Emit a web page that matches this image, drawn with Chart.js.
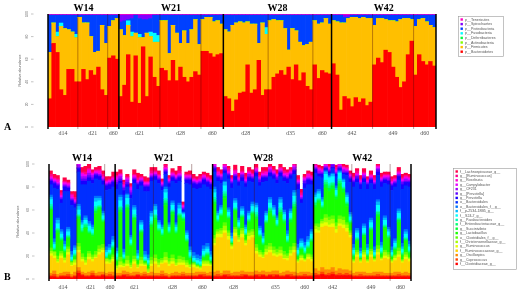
<!DOCTYPE html>
<html>
<head>
<meta charset="utf-8">
<script src="https://cdn.jsdelivr.net/npm/chart.js"></script>
<style>
  html, body { margin: 0; padding: 0; background: #fff; }
  #wrap { position: relative; width: 517px; height: 305px; overflow: hidden; }
  canvas { position: absolute; left: 0; }
  #chartA { top: 0; }
  #chartB { top: 150px; }
</style>
</head>
<body>
<div id="wrap">
  <canvas id="chartA" width="517" height="150"></canvas>
  <canvas id="chartB" width="517" height="155"></canvas>
</div>
<script>
// Semanas, dias y numero de muestras por dia
const weeks = ['W14', 'W21', 'W28', 'W42'];
const dayLabels = [['d14', 'd21', 'd60'], ['d21', 'd28', 'd60'], ['d28', 'd35', 'd60'], ['d42', 'd49', 'd60']];
const samplesPerDay = [[8, 8, 3], [11, 11, 6], [12, 12, 5], [11, 11, 6]];
const yTicks = [0, 20, 40, 60, 80, 100];

// Panel A: filos (de abajo hacia arriba)
const bacteroidetes = [25,74,66,33,28,51,51,40,40,51,42,50,46,53,33,28,61,63,60,
  27,37,64,22,63,21,71,27,62,44,36,52,50,41,59,41,53,44,40,44,49,46,67,67,65,62,64,65,
  27,25,14,24,30,31,55,30,33,59,28,33,33,44,47,50,46,53,42,55,41,48,36,33,55,43,50,48,47,
  56,46,15,27,25,18,26,22,25,19,22,55,61,57,68,66,53,44,35,40,64,76,46,64,58,55,58,54];
const firmicutes = [41,18,14,56,59,35,33,39,57,41,50,30,20,14,57,46,28,31,36,
  59,44,26,58,20,58,8,56,18,31,39,42,44,24,31,42,21,41,34,42,46,27,28,30,32,31,30,26,
  59,59,76,68,63,61,38,61,58,15,64,49,61,51,47,44,41,15,45,30,34,24,37,42,39,48,42,48,44,
  38,47,77,65,71,79,71,74,72,77,74,35,35,39,27,28,41,49,60,56,32,19,43,31,38,38,32,34];
const actinobacteria = [0,0,0,0,0,0,0,0,0,0,0,0,0,0,0,0,0,0,0,
  0,0,0,0,0,0,0,0,0,0,0,0,0,0,0,0,0,0,0,0,0,0,0,0,0,0,0,0,
  0,0,0,0,0,0,0,0,0,0,0,0,0,0,0,0,0,0,0,0,0,0,0,0,0,0,0,0,0,
  0,0,0,0,0,0,0,0,0,0,0,0,0,0,0,0,0,0,0,0,0,0,0,0,0,0,0,0];
const deferribacteres = [0,0,0,0,0,0,0,0,0,0,0,0,0,0,0,0,0,0,0,
  0,0,0,0,0,0,0,0,0,0,0,0,0,0,0,0,0,0,0,0,0,0,0,0,0,0,0,0,
  0,0,0,0,0,0,0,0,0,0,0,0,0,0,0,0,0,0,0,0,0,0,0,0,0,0,0,0,0,
  0,0,0,0,0,0,0,0,0,0,0,0,0,0,0,0,0,0,0,0,0,0,0,0,0,0,0,0];
const fusobacteria = [0,0,4,3,0,0,0,3,0,0,0,0,0,0,0,0,0,0,0,
  0,0,4,4,0,3,0,0,4,8,6,0,0,0,0,0,0,0,0,0,0,0,0,0,0,0,0,0,
  0,0,0,0,0,0,0,0,0,0,0,6,0,0,0,0,0,0,0,0,0,0,0,0,0,0,0,0,0,
  0,0,0,0,0,0,0,0,0,0,0,0,0,0,0,0,0,0,0,0,0,0,0,0,0,0,0,0];
const proteobacteria = [33,7,15,7,12,13,15,17,2,7,7,19,33,32,9,25,10,5,3,
  7,13,1,12,16,14,16,12,12,16,18,5,5,34,9,16,25,14,25,13,4,26,4,2,2,6,5,8,
  13,15,9,7,6,7,6,8,8,25,7,11,5,4,5,5,12,31,12,14,24,27,26,24,5,8,7,3,8,
  5,6,7,5,1,2,2,3,2,3,3,9,3,3,4,5,5,6,4,3,3,4,10,4,3,6,9,11];
const spirochaetes = [0,0,0,0,0,0,0,0,0,0,0,0,0,0,0,0,0,0,0,
  6,5,4,3,0,3,4,4,3,0,0,0,0,0,0,0,0,0,0,0,0,0,0,0,0,0,0,0,
  0,0,0,0,0,0,0,0,0,0,0,0,0,0,0,0,0,0,0,0,0,0,0,0,0,0,0,0,0,
  0,0,0,2,2,0,0,0,0,0,0,0,0,0,0,0,0,0,0,0,0,0,0,0,0,0,0,0];
const tenericutes = [1,1,1,1,1,1,1,1,1,1,1,1,1,1,1,1,1,1,1,
  1,1,1,1,1,1,1,1,1,1,1,1,1,1,1,1,1,1,1,1,1,1,1,1,1,1,1,1,
  1,1,1,1,1,1,1,1,1,1,1,1,1,1,1,1,1,1,1,1,1,1,1,1,1,1,1,1,1,
  1,1,1,1,1,1,1,1,1,1,1,1,1,1,1,1,1,1,1,1,1,1,1,1,1,1,1,1];
const phylumNames = ['p__Bacteroidetes', 'p__Firmicutes', 'p__Actinobacteria', 'p__Deferribacteres',
  'p__Fusobacteria', 'p__Proteobacteria', 'p__Spirochaetes', 'p__Tenericutes'];
const phylumColors = ['#FF0000', '#FFBF00', '#80FF00', '#00FF40', '#00FFFF', '#0040FF', '#8000FF', '#FF00BF'];

// Panel B: generos (de abajo hacia arriba)
const fClostridiaceae = [2,2,1,2,2,2,1,2,5,3,2,2,3,2,2,3,2,2,2,
  2,2,3,2,2,2,3,2,2,2,2,2,2,2,2,1,2,2,2,2,2,2,2,2,3,2,2,2,
  2,2,2,3,2,2,2,2,2,3,2,2,3,2,3,2,3,2,3,2,2,3,2,2,2,2,2,2,2,
  3,3,4,3,3,4,3,3,3,3,3,2,2,2,2,2,2,2,2,2,2,2,2,2,2,2,2,2];
const gCoprococcus = [1,2,1,1,1,2,1,1,2,1,1,1,2,1,1,1,1,2,1,
  1,1,1,2,1,1,1,1,2,1,1,1,1,2,1,1,1,1,1,2,1,1,1,1,1,2,1,1,
  1,2,1,1,2,1,1,1,2,1,1,1,1,2,1,1,1,2,1,1,1,1,2,1,1,1,2,1,1,
  2,1,2,1,2,2,1,2,1,2,1,1,1,2,1,1,1,1,2,1,1,1,1,1,2,1,1,1];
const gOscillospira = [2,3,2,2,3,2,2,3,3,2,2,3,2,2,3,2,2,2,3,
  2,2,3,2,2,3,2,2,2,2,3,2,2,3,2,2,2,3,2,2,2,2,2,3,2,2,2,3,
  3,3,2,3,3,2,3,3,3,2,3,3,3,2,3,3,2,3,3,2,3,3,2,3,2,3,2,3,2,
  4,3,4,4,3,4,3,4,4,3,3,2,3,2,3,2,2,3,2,3,2,2,2,3,2,2,3,2];
const fRuminococcaceae = [15,11,10,13,8,15,7,6,13,9,7,11,8,13,15,17,8,7,9,
  3,5,3,5,4,7,3,6,5,0,5,8,5,6,9,7,8,5,7,6,5,4,5,3,2,5,6,5,
  23,29,31,33,27,21,31,26,29,23,28,30,15,13,11,15,17,13,12,15,11,9,14,17,9,10,9,11,10,
  31,33,35,38,37,35,33,37,36,33,29,9,13,8,13,9,14,9,15,10,13,12,9,10,13,9,11,10];
const gRuminococcus = [2,2,1,2,2,2,1,2,2,2,2,2,2,1,2,2,2,1,2,
  1,2,1,2,1,2,1,2,1,1,2,2,2,1,2,2,2,1,2,2,2,1,2,1,1,2,2,1,
  2,3,3,2,3,2,3,2,3,2,3,2,2,2,1,2,2,2,2,2,1,2,2,2,1,2,1,2,2,
  3,2,3,3,2,3,3,2,3,3,2,1,2,1,2,1,2,1,2,1,2,2,1,2,2,1,2,2];
const fChristensenellaceae = [2,3,2,2,2,3,2,2,3,2,2,3,2,2,3,2,2,2,2,
  2,3,2,3,2,2,2,3,1,2,3,3,2,2,3,2,3,2,3,2,2,2,1,1,1,2,2,1,
  4,2,3,4,3,1,3,2,3,2,3,3,3,2,2,3,3,3,2,3,3,2,3,3,1,2,1,2,2,
  3,3,2,4,4,4,3,4,4,3,2,1,2,1,2,1,3,1,3,1,3,2,1,2,3,1,2,1];
const oClostridiales = [3,1,3,2,1,2,1,1,3,3,3,2,2,3,3,3,1,1,2,
  1,4,1,4,2,3,1,3,1,1,3,3,3,2,4,3,3,3,3,3,2,1,1,1,1,1,1,1,
  3,2,2,3,2,1,2,2,2,1,2,2,3,2,2,3,3,3,3,3,3,2,3,3,1,1,1,1,2,
  2,3,2,3,3,3,3,3,3,2,2,1,2,1,2,1,2,1,3,1,2,2,1,1,3,1,2,1];
const gLactobacillus = [33,1,20,9,4,7,0,2,21,18,25,15,16,33,31,19,0,3,5,
  3,39,3,40,14,31,3,21,1,2,26,30,24,19,41,21,35,22,33,31,16,4,0,0,0,2,4,1,
  27,6,10,21,10,1,14,5,9,4,7,13,22,11,6,19,26,24,19,28,24,9,21,30,2,4,3,4,11,
  14,18,9,23,22,23,20,25,21,14,6,2,8,1,12,2,16,1,25,2,19,12,2,4,22,3,10,3];
const gSuccinivibrio = [1,0,2,1,1,1,0,1,2,1,1,1,1,2,2,1,0,1,1,
  1,2,0,2,1,2,0,1,0,1,2,2,1,1,2,1,2,1,2,2,1,1,0,0,0,1,1,0,
  2,1,1,2,1,0,1,1,1,0,1,1,2,1,1,1,2,2,1,2,2,1,2,2,1,1,1,1,1,
  2,2,1,3,3,3,2,3,3,2,1,1,1,0,1,1,1,0,2,1,1,1,0,1,2,1,1,1];
const fEnterobacteriaceae = [2,1,1,1,1,1,1,1,1,1,2,1,1,2,1,1,1,1,1,
  1,2,1,2,1,1,1,1,1,1,1,2,1,1,2,1,1,1,1,1,1,1,1,1,1,1,1,1,
  2,1,1,2,1,1,1,1,1,1,1,1,2,1,1,1,2,1,1,2,1,1,1,2,1,1,1,1,1,
  2,1,1,2,2,2,1,2,1,1,1,1,1,1,1,1,1,1,2,1,1,1,1,1,1,1,1,1];
const gParabacteroides = [2,1,1,1,1,1,1,1,1,2,1,1,1,2,1,1,1,1,1,
  2,1,1,1,1,2,1,1,1,1,2,1,1,1,2,1,1,1,1,1,1,1,1,1,1,1,1,1,
  2,1,1,2,1,1,1,1,1,1,1,1,2,1,1,1,1,1,1,2,1,1,1,2,1,1,1,1,1,
  1,1,1,2,2,1,1,2,1,1,1,1,1,1,1,1,1,1,1,1,1,1,1,1,1,1,1,1];
const fS24_7 = [4,3,4,3,2,3,2,3,4,3,3,4,3,4,4,3,3,2,3,
  3,5,2,5,3,4,2,4,2,2,4,4,3,3,5,3,4,3,4,2,3,3,2,2,2,3,3,2,
  4,3,3,5,3,2,4,3,3,3,3,4,4,3,3,4,4,4,3,4,4,3,4,5,3,3,3,3,4,
  4,4,3,5,5,5,4,5,4,4,3,3,4,2,4,3,4,2,5,3,4,3,2,3,4,3,3,3];
const fP2534 = [2,2,3,2,2,2,2,2,3,2,2,2,2,3,2,2,2,2,2,
  2,3,2,3,2,2,2,2,2,2,3,3,2,2,3,2,2,2,3,1,2,2,2,2,2,2,2,2,
  3,2,2,3,2,2,2,2,2,2,2,2,2,2,2,2,3,2,2,3,2,2,2,3,2,2,2,2,2,
  2,2,2,2,1,2,2,1,2,2,2,2,2,2,2,2,2,2,3,2,2,2,2,2,2,2,2,2];
const oBacteroidalesF = [2,3,2,2,3,2,3,2,2,2,2,2,2,2,2,2,3,3,3,
  3,2,3,1,2,2,3,2,3,3,2,2,2,2,2,2,2,2,2,1,2,3,3,3,3,3,3,3,
  2,2,2,1,2,3,2,2,2,2,2,2,2,2,3,2,2,2,2,2,2,3,2,2,3,2,3,3,2,
  2,2,2,1,1,1,2,1,1,2,2,3,2,3,2,3,2,3,2,3,2,2,3,2,2,3,2,3];
const oBacteroidales = [9,44,25,23,43,31,40,33,28,31,27,35,36,15,14,23,49,48,43,
  51,10,47,6,32,19,53,30,52,55,26,21,32,30,11,31,17,34,19,1,41,54,56,57,59,53,49,54,
  13,26,19,7,25,39,16,28,22,33,26,17,23,35,44,26,18,23,28,18,25,41,26,14,48,31,47,45,39,
  17,11,17,1,2,4,8,1,4,15,26,50,40,51,36,48,30,50,21,48,28,37,49,45,25,47,38,47];
const gPrevotella = [3,4,3,3,4,3,4,3,3,3,3,3,3,3,3,3,4,4,4,
  4,2,4,2,3,3,4,3,4,4,3,3,3,3,2,3,3,3,3,1,3,4,4,4,4,4,4,4,
  3,3,3,2,3,4,3,3,3,3,3,3,3,3,4,3,3,3,3,3,3,4,3,3,4,3,4,4,3,
  3,2,3,1,1,1,2,1,1,2,3,4,3,4,3,4,3,4,3,4,3,3,4,3,3,4,3,4];
const gPrevotellaBr = [1,1,1,1,1,1,1,1,1,2,2,2,2,1,1,1,1,1,1,
  2,2,2,2,2,1,1,1,1,1,1,1,1,1,1,1,1,1,1,1,1,1,1,1,1,1,1,1,
  1,1,2,1,1,1,1,1,2,1,1,1,1,2,1,1,1,1,2,1,1,1,1,1,1,1,2,1,1,
  1,1,1,1,1,2,1,1,1,1,1,1,2,1,1,1,1,1,2,1,1,1,1,1,1,2,1,1];
const gCF231 = [1,1,1,1,1,1,1,1,2,2,2,2,2,1,1,1,1,1,1,
  2,2,1,2,2,1,1,1,1,1,1,1,1,1,1,1,1,1,1,1,1,1,1,1,1,1,1,1,
  1,1,1,2,1,1,1,1,1,1,2,1,1,1,1,1,2,1,1,1,1,1,1,2,1,1,1,1,1,
  1,2,1,1,1,1,1,1,2,1,1,1,1,1,2,1,1,1,1,1,1,2,1,1,1,1,2,1];
const gCampylobacter = [1,1,1,1,1,1,1,1,2,2,1,2,1,1,1,1,1,1,1,
  2,1,1,1,2,1,1,1,1,1,1,1,1,1,1,1,1,1,1,1,1,1,1,1,1,1,1,1,
  1,1,1,1,1,1,1,1,1,1,1,1,1,1,1,1,1,1,1,1,1,1,1,1,1,1,1,1,1,
  1,1,1,1,1,1,1,1,1,1,1,1,1,1,1,1,1,1,1,1,1,1,1,1,1,1,1,1];
const gRoseburia = [1,1,2,1,1,1,2,1,1,1,1,1,1,1,2,1,1,1,1,
  1,1,1,1,1,1,1,1,1,1,1,1,1,1,1,1,1,1,1,1,1,1,1,1,1,1,1,1,
  1,2,1,1,1,1,2,1,1,1,1,1,1,1,1,2,1,1,1,1,1,2,1,1,1,1,1,2,1,
  1,1,1,1,1,1,1,1,1,1,1,1,1,1,1,1,1,1,1,1,1,1,1,1,1,1,1,1];
const gRuminococcusBr = [2,1,1,2,1,1,1,2,1,1,2,1,1,1,1,2,1,1,1,
  1,1,2,1,1,1,2,1,1,1,2,1,1,1,2,1,1,1,2,1,1,1,1,1,2,1,1,1,
  1,1,1,1,2,1,1,1,1,2,1,1,1,1,2,1,1,1,1,1,2,1,1,1,1,2,1,1,1,
  1,1,1,1,1,1,2,1,1,1,1,1,2,1,1,1,1,2,1,1,1,1,2,1,1,1,1,1];
const fLachnospiraceae = [3,3,3,2,3,2,2,5,4,4,5,5,2,2,3,3,3,2,4,
  3,3,2,2,2,4,4,2,4,3,3,3,3,2,3,2,3,3,4,2,2,3,3,2,2,2,3,3,
  1,3,3,4,2,2,4,3,4,3,3,3,3,3,3,3,3,3,3,3,3,2,2,3,3,3,2,2,3,
  2,2,2,2,2,2,2,1,2,2,2,3,2,3,3,2,3,2,3,3,2,2,2,2,3,3,2,2];
const genusNames = ['f__Clostridiaceae_g__', 'g__Coprococcus', 'g__Oscillospira', 'f__Ruminococcaceae_g__',
  'g__Ruminococcus', 'f__Christensenellaceae_g__', 'o__Clostridiales_f__g__', 'g__Lactobacillus',
  'g__Succinivibrio', 'f__Enterobacteriaceae_g__', 'g__Parabacteroides', 'f__S24-7_g__',
  'f__p-2534-18B5_g__', 'o__Bacteroidales_f__g__', 'o__Bacteroidales', 'g__Prevotella',
  'g__[Prevotella]', 'g__CF231', 'g__Campylobacter', 'g__Roseburia', 'g__[Ruminococcus]',
  'f__Lachnospiraceae_g__'];
const genusColors = ['#FF0000', '#FF4600', '#FF8B00', '#FFD100', '#E8FF00', '#A2FF00', '#5DFF00', '#17FF00',
  '#00FF2E', '#00FF74', '#00FFB9', '#00FFFF', '#00B9FF', '#0074FF', '#002EFF', '#1700FF',
  '#5D00FF', '#A200FF', '#E800FF', '#FF00D1', '#FF008B', '#FF0046'];

// Etiquetas de las muestras (una barra por muestra)
const samples = [];
weeks.forEach((w, wi) => dayLabels[wi].forEach((d, di) => {
  for (let k = 1; k <= samplesPerDay[wi][di]; k++) samples.push(w + ' ' + d + ' ' + k);
}));

const serif = '"Liberation Serif", "DejaVu Serif", serif';
const sans = '"Liberation Sans", Arial, sans-serif';

// Dibuja separadores, titulos de semana, dias, eje y, leyenda y letra del panel
const panelDeco = {
  id: 'panelDeco',
  afterDatasetsDraw(chart, args, o) {
    const ctx = chart.ctx, a = chart.chartArea, x = chart.scales.x, y = chart.scales.y;
    const step = x.getPixelForValue(1) - x.getPixelForValue(0);
    const edge = i => x.getPixelForValue(i) - step / 2;
    ctx.save();

    const thick = px => {
      ctx.strokeStyle = '#000'; ctx.lineWidth = 1.5;
      ctx.beginPath(); ctx.moveTo(px, a.top); ctx.lineTo(px, a.bottom + 2); ctx.stroke();
    };
    const thin = px => {
      ctx.strokeStyle = 'rgba(70,0,0,0.55)'; ctx.lineWidth = 0.7;
      ctx.beginPath(); ctx.moveTo(px, a.top); ctx.lineTo(px, a.bottom + 2); ctx.stroke();
    };

    let idx = 0;
    weeks.forEach((w, wi) => {
      const wStart = idx;
      dayLabels[wi].forEach((d, di) => {
        const dStart = idx;
        idx += samplesPerDay[wi][di];
        if (di > 0) thin(edge(dStart));
        ctx.fillStyle = '#555';
        ctx.font = '6px ' + serif;
        ctx.textAlign = 'center';
        ctx.textBaseline = 'middle';
        ctx.fillText(d, (edge(dStart) + edge(idx)) / 2, a.bottom + o.dayGap);
      });
      thick(edge(wStart));
      ctx.fillStyle = '#000';
      ctx.font = 'bold 10px ' + serif;
      ctx.textAlign = 'center';
      ctx.textBaseline = 'middle';
      ctx.fillText(w, (edge(wStart) + edge(idx)) / 2, o.titleY);
    });
    thick(edge(idx));

    // eje y
    ctx.strokeStyle = '#888'; ctx.lineWidth = 0.5;
    ctx.fillStyle = '#666';
    ctx.font = '3.5px ' + sans;
    ctx.textAlign = 'center';
    ctx.textBaseline = 'middle';
    yTicks.forEach(t => {
      const py = y.getPixelForValue(t);
      ctx.beginPath(); ctx.moveTo(o.tickX, py); ctx.lineTo(o.tickX + 2.5, py); ctx.stroke();
      ctx.save(); ctx.translate(o.tickLabelX, py); ctx.rotate(-Math.PI / 2);
      ctx.fillText(String(t), 0, 0); ctx.restore();
    });
    ctx.save(); ctx.translate(o.axisTitleX, (a.top + a.bottom) / 2); ctx.rotate(-Math.PI / 2);
    ctx.font = '3.6px ' + sans; ctx.fillStyle = '#555';
    ctx.fillText('Relative abundance', 0, 0); ctx.restore();

    // leyenda
    const L = o.legend;
    ctx.strokeStyle = '#999'; ctx.lineWidth = 0.6;
    ctx.strokeRect(L.x + 0.5, L.y + 0.5, L.w, L.h);
    ctx.font = '3.6px ' + sans;
    ctx.textAlign = 'left';
    const ds = chart.data.datasets.slice().reverse();
    ds.forEach((d, i) => {
      const ry = L.y + 3.5 + i * L.row;
      ctx.fillStyle = d.backgroundColor;
      ctx.fillRect(L.x + 2.5, ry - 1.2, 2.4, 2.4);
      ctx.fillStyle = '#555';
      ctx.fillText(d.label, L.x + 7, ry);
    });

    // letra del panel
    ctx.fillStyle = '#000';
    ctx.font = 'bold 10px ' + serif;
    ctx.textAlign = 'left';
    ctx.fillText(o.letter, 4, o.letterY);
    ctx.restore();
  }
};

function makeChart(id, series, names, colors, padding, deco) {
  const datasets = series.map((data, i) => ({
    label: names[i],
    data: data,
    backgroundColor: colors[i],
    borderWidth: 0,
    barPercentage: 1,
    categoryPercentage: 1
  }));
  return new Chart(document.getElementById(id).getContext('2d'), {
    type: 'bar',
    data: { labels: samples, datasets: datasets },
    options: {
      responsive: false,
      animation: false,
      events: [],
      layout: { padding: padding },
      plugins: { legend: { display: false }, tooltip: { enabled: false }, panelDeco: deco },
      scales: {
        x: { stacked: true, display: false },
        y: { stacked: true, display: false, min: 0, max: 100 }
      }
    },
    plugins: [panelDeco]
  });
}

makeChart('chartA',
  [bacteroidetes, firmicutes, actinobacteria, deferribacteres, fusobacteria, proteobacteria, spirochaetes, tenericutes],
  phylumNames, phylumColors,
  { left: 48, right: 81, top: 14, bottom: 23 },
  { letter: 'A', letterY: 127, titleY: 8, dayGap: 6, tickX: 31, tickLabelX: 27.5, axisTitleX: 20,
    legend: { x: 458, y: 16, w: 45, h: 40, row: 4.6 } });

makeChart('chartB',
  [fClostridiaceae, gCoprococcus, gOscillospira, fRuminococcaceae, gRuminococcus, fChristensenellaceae,
   oClostridiales, gLactobacillus, gSuccinivibrio, fEnterobacteriaceae, gParabacteroides, fS24_7,
   fP2534, oBacteroidalesF, oBacteroidales, gPrevotella, gPrevotellaBr, gCF231, gCampylobacter,
   gRoseburia, gRuminococcusBr, fLachnospiraceae],
  genusNames, genusColors,
  { left: 49, right: 106, top: 14, bottom: 26 },
  { letter: 'B', letterY: 127, titleY: 8, dayGap: 8, tickX: 32, tickLabelX: 28, axisTitleX: 18,
    legend: { x: 453, y: 18, w: 63, h: 101, row: 4.4 } });
</script>
</body>
</html>
